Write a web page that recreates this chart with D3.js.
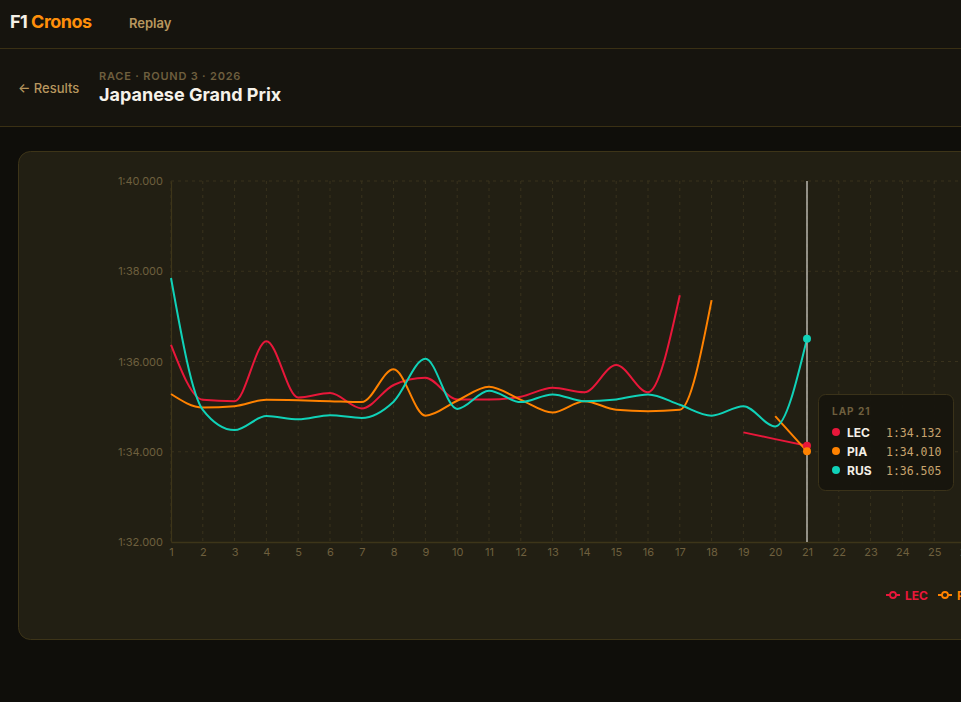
<!DOCTYPE html>
<html>
<head>
<meta charset="utf-8">
<script src="https://cdn.jsdelivr.net/npm/d3@7"></script>
<style>
  html, body { margin:0; padding:0; background:#0f0e0a; width:961px; height:702px; overflow:hidden; font-family: Inter, "Noto Sans", sans-serif; }
  #header { position:absolute; left:0; top:0; width:961px; height:48px; background:#16140e; border-bottom:1px solid #3a3014; }
  #sub { position:absolute; left:0; top:49px; width:961px; height:77px; background:#16140e; border-bottom:1px solid #3a3014; }
  .abs { position:absolute; white-space:nowrap; }
  #chart { position:absolute; left:0; top:0; }
</style>
</head>
<body>
<div id="header">
  <div class="abs" style="left:10px;top:11px;font-size:18px;font-weight:700;letter-spacing:-0.5px;color:#f4f0e6;">F1 <span style="color:#ff8f0a">Cronos</span></div>
  <div class="abs" style="left:129px;top:15px;font-size:13px;font-weight:600;color:#b8975e;">Replay</div>
</div>
<div id="sub">
  <div class="abs" style="left:18px;top:31px;font-size:13px;font-weight:500;color:#b8975e;">← Results</div>
  <div class="abs" style="left:99px;top:20px;font-size:11px;font-weight:600;letter-spacing:0.8px;color:#6e5f3e;">RACE · ROUND 3 · 2026</div>
  <div class="abs" style="left:99px;top:35px;font-size:18px;font-weight:700;color:#f6f2ea;">Japanese Grand Prix</div>
</div>
<svg id="chart" width="961" height="702"></svg>
<script>
// ---- data ----
const laps = d3.range(1, 27);
const drivers = ["LEC", "PIA", "RUS"];
const colors = ["#e8173a", "#ff8200", "#10d2b8"];
const LEC = [96.37, 95.15, 95.12, 96.45, 95.20, 95.30, 94.96, 95.48, 95.64, 95.16, 95.16, 95.22, 95.42, 95.32, 95.92, 95.32, 97.47, null, 94.43, 94.28, 94.132];
const PIA = [95.28, 94.98, 95.01, 95.15, 95.14, 95.12, 95.10, 95.83, 94.80, 95.13, 95.44, 95.15, 94.87, 95.12, 94.93, 94.90, 94.93, 97.36, null, 94.79, 94.010];
const RUS = [97.85, 94.93, 94.48, 94.79, 94.72, 94.81, 94.75, 95.11, 96.06, 94.95, 95.35, 95.10, 95.27, 95.12, 95.16, 95.27, 95.04, 94.80, 95.01, 94.56, 96.505];
const series = [LEC, PIA, RUS];
const yTicks = [92, 94, 96, 98, 100];
const hoverLap = 21;

function fmt(t) {
  const m = Math.floor(t / 60);
  const s = t - m * 60;
  return m + ":" + (s < 10 ? "0" : "") + s.toFixed(3);
}

const svg = d3.select("#chart");

// card
svg.append("rect").attr("x", 18.5).attr("y", 151.5).attr("width", 1800).attr("height", 488)
  .attr("rx", 12).attr("fill", "#221f13").attr("stroke", "#3d3418");

const x = d3.scaleLinear().domain([1, 26]).range([171, 171 + 25 * 31.8]);
const y = d3.scaleLinear().domain([92, 100]).range([542, 181]);

const g = svg.append("g");

// grid
g.selectAll(".vg").data(laps).join("line")
  .attr("x1", d => x(d)).attr("x2", d => x(d)).attr("y1", 181).attr("y2", 542)
  .attr("stroke", "#39321d").attr("stroke-dasharray", "3,4").attr("stroke-width", 1);
g.selectAll(".hg").data(yTicks.slice(1)).join("line")
  .attr("x1", 171).attr("x2", 1900).attr("y1", d => y(d)).attr("y2", d => y(d))
  .attr("stroke", "#39321d").attr("stroke-dasharray", "3,4").attr("stroke-width", 1);

// axes
const yAxis = d3.axisLeft(y).tickValues(yTicks).tickFormat(fmt).tickSize(0).tickPadding(8);
const ya = g.append("g").attr("transform", "translate(171,0)").call(yAxis);
ya.select(".domain").attr("stroke", "#3d3519").attr("stroke-width", 1.2);
ya.selectAll("text").attr("fill", "#6e5f3e").attr("font-size", 11).attr("font-family", "Inter, sans-serif");

const xAxis = d3.axisBottom(x).tickValues(laps).tickFormat(d3.format("d")).tickSize(0).tickPadding(6);
const xa = g.append("g").attr("transform", "translate(0,542)").call(xAxis);
xa.select(".domain").attr("stroke", "#3d3519").attr("stroke-width", 1.5);
g.append("line").attr("x1", x(26)).attr("x2", 1900).attr("y1", 542).attr("y2", 542)
  .attr("stroke", "#3d3519").attr("stroke-width", 1.5);
xa.selectAll("text").attr("fill", "#6e5f3e").attr("font-size", 11).attr("font-family", "Inter, sans-serif");

// lines
const line = d3.line()
  .defined(d => d.v != null)
  .x(d => x(d.lap)).y(d => y(d.v))
  .curve(d3.curveMonotoneX);

series.forEach((s, i) => {
  const pts = s.map((v, j) => ({ lap: j + 1, v }));
  g.append("path").datum(pts).attr("d", line)
    .attr("fill", "none").attr("stroke", colors[i]).attr("stroke-width", 2);
});

// hover line
g.append("line").attr("x1", x(hoverLap)).attr("x2", x(hoverLap)).attr("y1", 181).attr("y2", 542)
  .attr("stroke", "#b9b6ae").attr("stroke-width", 1.5);

series.forEach((s, i) => {
  g.append("circle").attr("cx", x(hoverLap)).attr("cy", y(s[hoverLap - 1])).attr("r", 4)
    .attr("fill", colors[i]);
});

// tooltip
const tt = svg.append("g").attr("transform", "translate(818,394)");
tt.append("rect").attr("x", 0.5).attr("y", 0.5).attr("width", 135).attr("height", 96).attr("rx", 7)
  .attr("fill", "#17150e").attr("fill-opacity", 0.96).attr("stroke", "#3a3219");
tt.append("text").attr("x", 14).attr("y", 21).text("LAP " + hoverLap)
  .attr("fill", "#6e5f3e").attr("font-size", 10).attr("font-weight", 700).attr("letter-spacing", 1);
drivers.forEach((d, i) => {
  const ry = 38 + i * 19;
  tt.append("circle").attr("cx", 18).attr("cy", ry).attr("r", 4).attr("fill", colors[i]);
  tt.append("text").attr("x", 29).attr("y", ry + 4.5).text(d)
    .attr("fill", "#f4f0e6").attr("font-size", 12).attr("font-weight", 700);
  tt.append("text").attr("x", 68).attr("y", ry + 4.5).text(fmt(series[i][hoverLap - 1]))
    .attr("fill", "#c8a46e").attr("font-size", 11.5).attr("font-family", "'DejaVu Sans Mono', monospace");
});

// legend
const lg = svg.append("g").attr("transform", "translate(886,595)");
drivers.forEach((d, i) => {
  const item = lg.append("g").attr("transform", `translate(${i * 52},0)`);
  item.append("line").attr("x1", 0).attr("x2", 14).attr("y1", 0).attr("y2", 0).attr("stroke", colors[i]).attr("stroke-width", 2);
  item.append("circle").attr("cx", 7).attr("cy", 0).attr("r", 3).attr("fill", "#221f13").attr("stroke", colors[i]).attr("stroke-width", 1.8);
  item.append("text").attr("x", 19).attr("y", 4.5).text(d).attr("fill", colors[i])
    .attr("font-size", 12).attr("font-weight", 700);
});
</script>
</body>
</html>
